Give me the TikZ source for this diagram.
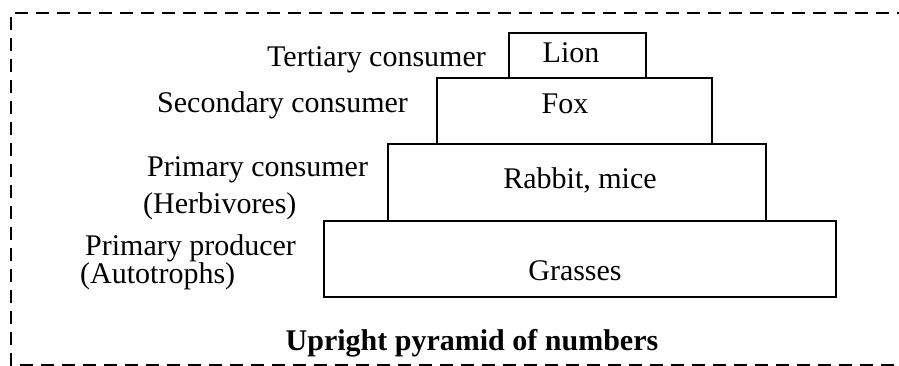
\documentclass[tikz,border=0pt]{standalone}
\usepackage{fontspec}
\setmainfont{Liberation Serif}
\begin{document}
\begin{tikzpicture}[x=1pt,y=-1pt,
  lvl/.style={draw,line width=1.6pt,inner sep=0pt},
  txt/.style={anchor=base,inner sep=0pt,font=\fontsize{30}{36}\selectfont},
  lbl/.style={anchor=base west,inner sep=0pt,font=\fontsize{30}{36}\selectfont},
  frame/.style={line width=2.8pt,dash pattern=on 13pt off 8pt}]
\useasboundingbox (0,0) rectangle (899,365);
\coordinate (f1) at (915,365);
\coordinate (f2) at (11,365);
\coordinate (f3) at (11,13);
\coordinate (f4) at (915,13);
\draw[frame] (f1) -- (f2) -- (f3) -- (f4);
% pyramid levels
\node[lvl,minimum width=512pt,minimum height=76pt] (grass) at (580,259) {};
\node[lvl,minimum width=378pt,minimum height=77pt] (rabbit) at (577,182.5) {};
\node[lvl,minimum width=275pt,minimum height=66pt] (fox) at (574.5,111) {};
\node[lvl,minimum width=137pt,minimum height=45pt] (lion) at (577.5,55.5) {};
% texts inside
\node[txt] (tlion) at (571,62) {Lion};
\node[txt] (tfox) at (565,113) {Fox};
\node[txt] (trab) at (580,188) {Rabbit, mice};
\node[txt] (tgra) at (575,280) {Grasses};
% labels
\node[lbl] (l1) at (267,66) {Tertiary consumer};
\node[lbl] (l2) at (157,112) {Secondary consumer};
\node[lbl] (l3) at (147,176) {Primary consumer};
\node[lbl] (l4) at (143,213) {(Herbivores)};
\node[lbl] (l5) at (85,255) {Primary producer};
\node[lbl] (l6) at (80,283) {(Autotrophs)};
\node[txt,font=\fontsize{30}{36}\selectfont\bfseries] (title) at (472,350) {Upright pyramid of numbers};
\end{tikzpicture}
\end{document}
